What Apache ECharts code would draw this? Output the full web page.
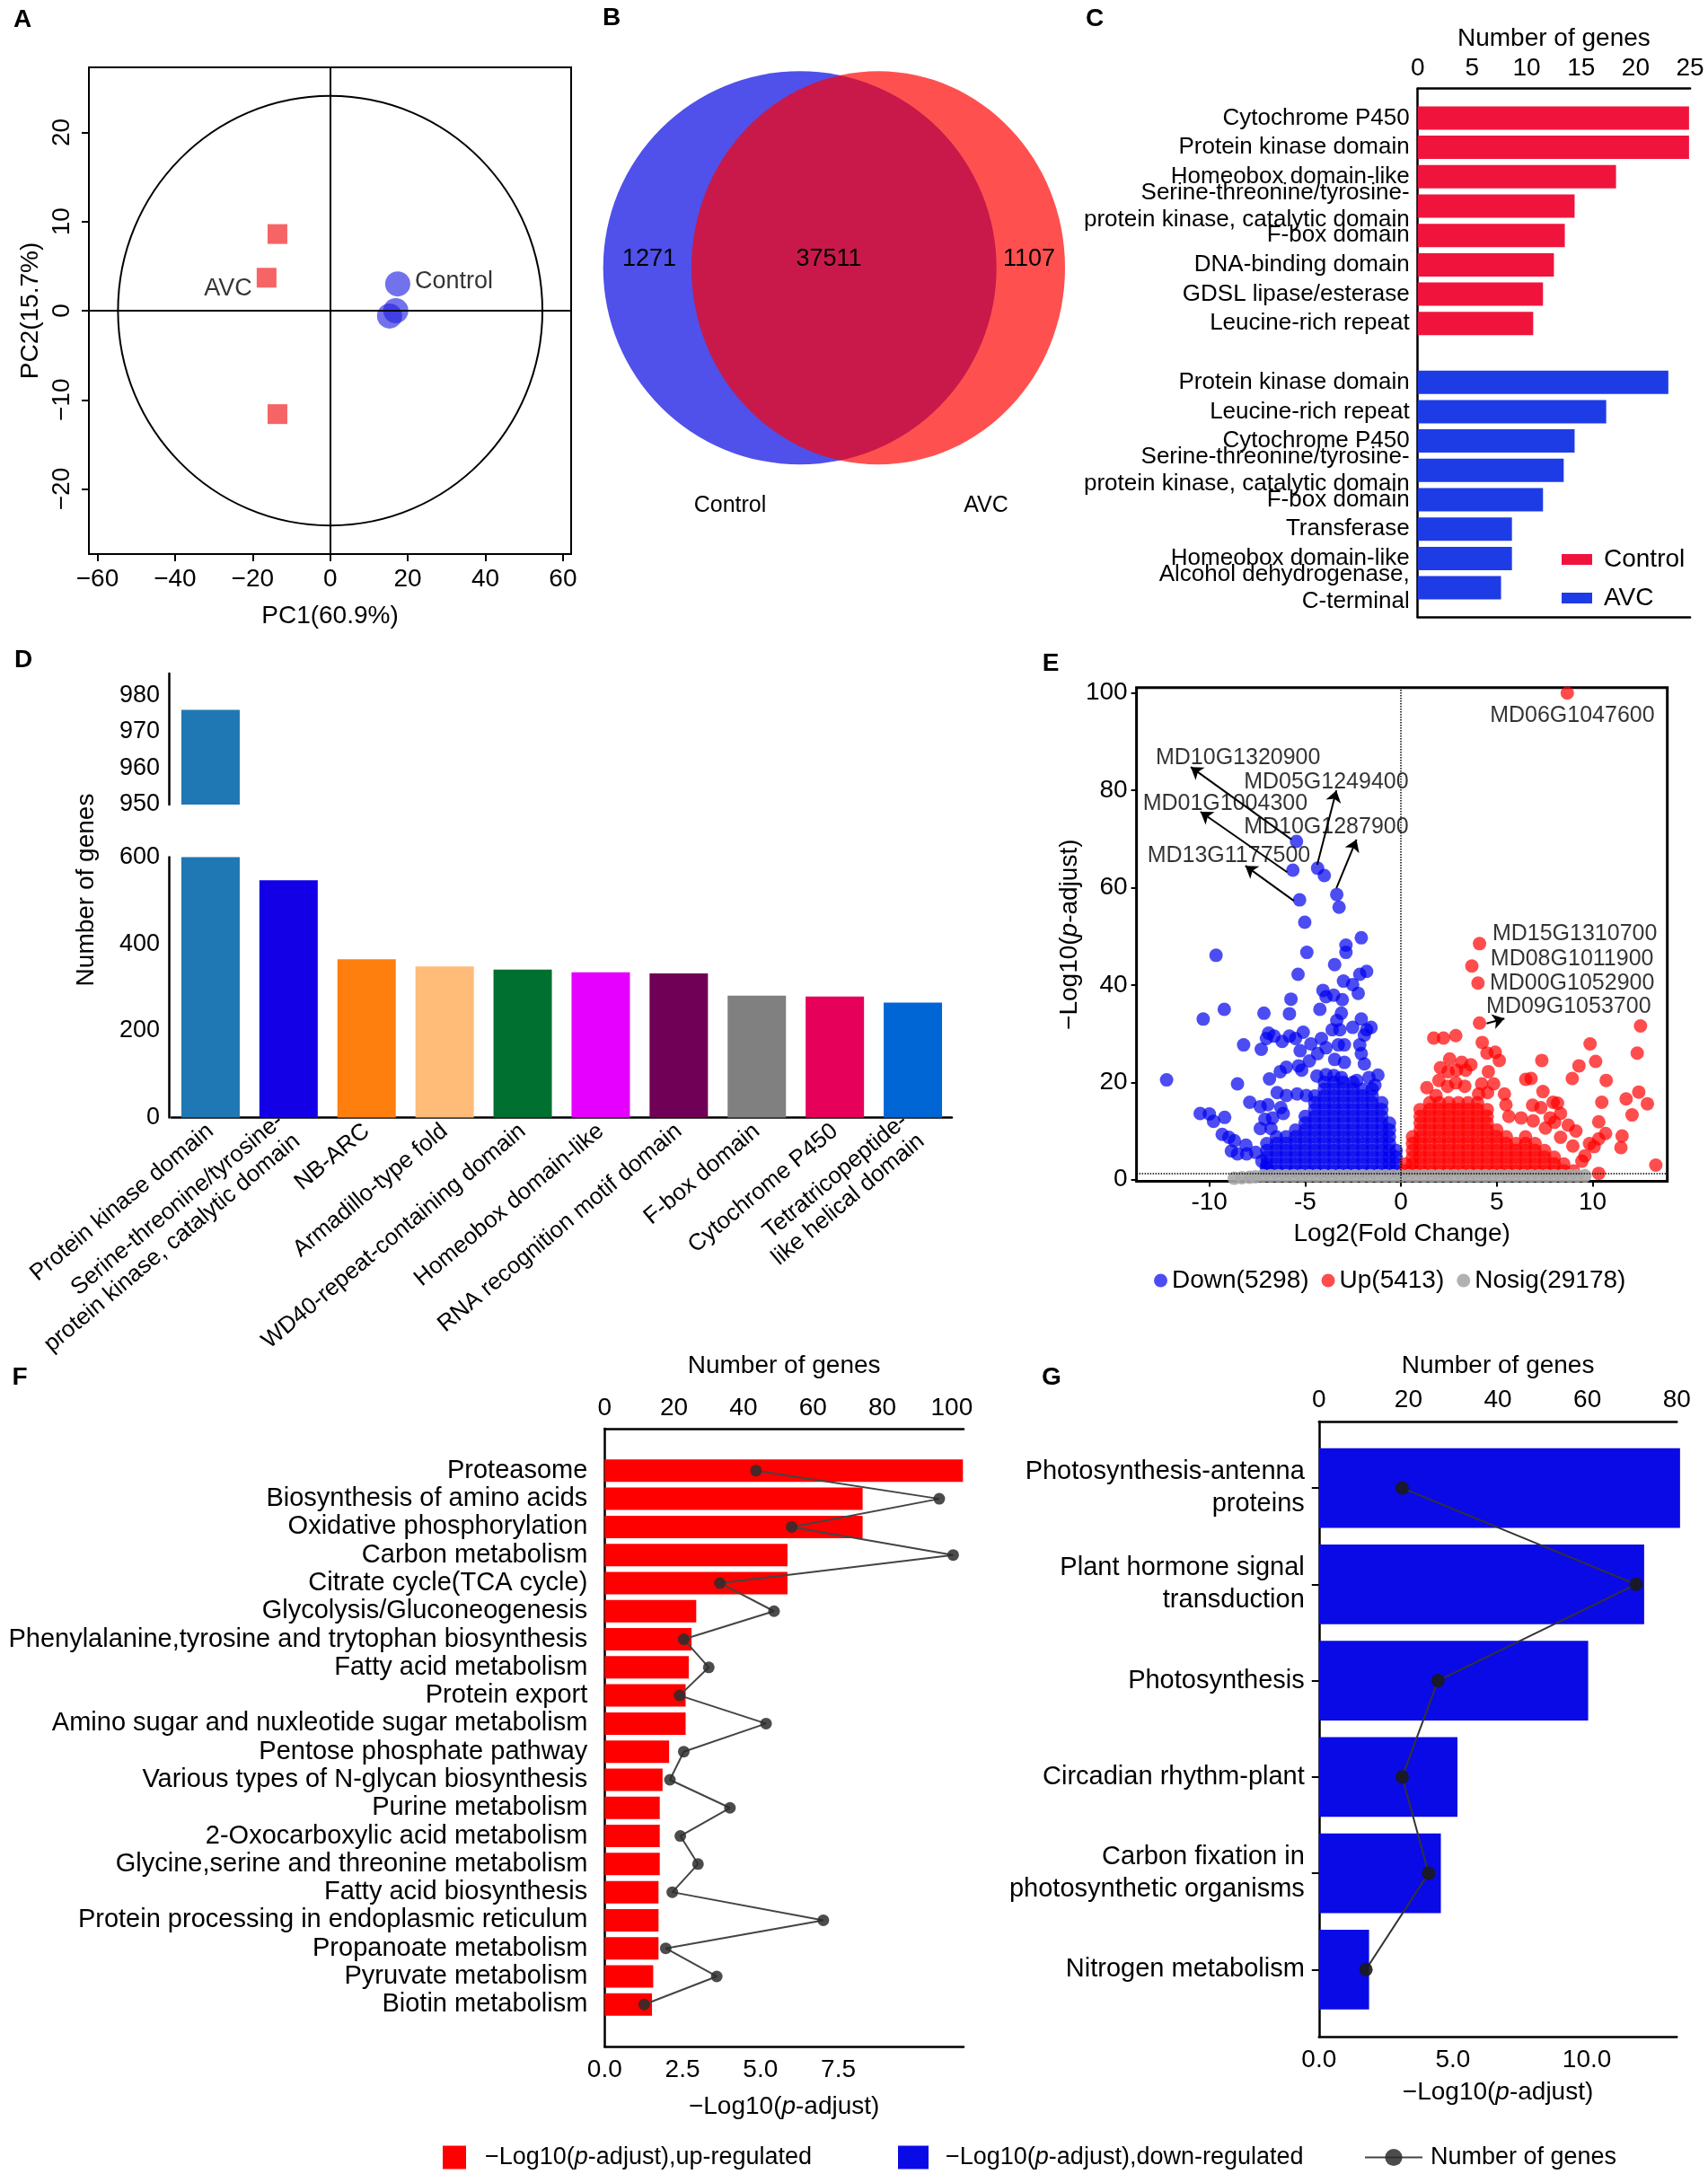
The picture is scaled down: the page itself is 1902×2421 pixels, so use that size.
<!DOCTYPE html>
<html><head><meta charset="utf-8">
<script src="https://cdn.jsdelivr.net/npm/echarts@6/dist/echarts.min.js"></script>
<style>html,body{margin:0;padding:0;background:#fff}#c{width:1902px;height:2421px}</style>
</head><body><div id="c"></div><script>
const FONT = 'Liberation Sans, Arial, Helvetica, sans-serif';

// ---------- Panel A: PCA ----------
const pcaAVC = [[-13.6, 8.6], [-16.4, 3.7], [-13.6, -11.6]];
const pcaControl = [[17.4, 3.0], [16.9, 0.0], [15.3, -0.6]];
const pcaEllipse = [[0, 0, 54.7, 24.1]]; // centre x, centre y, radius x, radius y (PC units)
const pcaXTicks = [-60, -40, -20, 0, 20, 40, 60];
const pcaYTicks = [-20, -10, 0, 10, 20];

// ---------- Panel B: Venn ----------
const vennSets = ['Control', 'AVC'];
const vennCounts = [1271, 37511, 1107]; // only Control, shared, only AVC

// ---------- Panel C ----------
const cControlCats = ['Cytochrome P450', 'Protein kinase domain', 'Homeobox domain-like',
  'Serine-threonine/tyrosine-\nprotein kinase, catalytic domain', 'F-box domain',
  'DNA-binding domain', 'GDSL lipase/esterase', 'Leucine-rich repeat'];
const cControlVals = [24.9, 24.9, 18.2, 14.4, 13.5, 12.5, 11.5, 10.6];
const cAVCCats = ['Protein kinase domain', 'Leucine-rich repeat', 'Cytochrome P450',
  'Serine-threonine/tyrosine-\nprotein kinase, catalytic domain', 'F-box domain',
  'Transferase', 'Homeobox domain-like', 'Alcohol dehydrogenase,\nC-terminal'];
const cAVCVals = [23.0, 17.3, 14.4, 13.4, 11.5, 8.65, 8.65, 7.65];

// ---------- Panel D ----------
const dCats = ['Protein kinase domain', 'Serine-threonine/tyrosine-\nprotein kinase, catalytic domain',
  'NB-ARC', 'Armadillo-type fold', 'WD40-repeat-containing domain', 'Homeobox domain-like',
  'RNA recognition motif domain', 'F-box domain', 'Cytochrome P450',
  'Tetratricopeptide-\nlike helical domain'];
const dVals = [976, 547, 365, 348, 341, 335, 332, 281, 279, 265];
const dUpperTicks = [950, 960, 970, 980];
const dLowerTicks = [0, 200, 400, 600];

// ---------- Panel E: volcano ----------
const volcanoGroups = ['Down', 'Up', 'Nosig'];
const volcanoCounts = [5298, 5413, 29178];
// dense cloud, read column by column: [log2FC, [-log10 padj values]]
const downCoreCols = [
  [-7.0, [1.8, 3.2, 4.6, 6.0, 7.4]],
  [-6.5, [1.8, 3.2, 4.6, 6.0, 7.4, 8.8]],
  [-6.0, [1.8, 3.2, 4.6, 6.0, 7.4, 8.8]],
  [-5.5, [1.8, 3.2, 4.6, 6.0, 7.4, 8.8, 10.2]],
  [-5.0, [1.8, 3.2, 4.6, 6.0, 7.4, 8.8, 10.2, 11.6, 13.0]],
  [-4.5, [1.8, 3.2, 4.6, 6.0, 7.4, 8.8, 10.2, 11.6, 13.0, 14.4, 15.8, 17.2]],
  [-4.0, [1.8, 3.2, 4.6, 6.0, 7.4, 8.8, 10.2, 11.6, 13.0, 14.4, 15.8, 17.2, 18.6, 20.0]],
  [-3.5, [1.8, 3.2, 4.6, 6.0, 7.4, 8.8, 10.2, 11.6, 13.0, 14.4, 15.8, 17.2, 18.6, 20.0, 21.4]],
  [-3.0, [1.8, 3.2, 4.6, 6.0, 7.4, 8.8, 10.2, 11.6, 13.0, 14.4, 15.8, 17.2, 18.6, 20.0]],
  [-2.5, [1.8, 3.2, 4.6, 6.0, 7.4, 8.8, 10.2, 11.6, 13.0, 14.4, 15.8, 17.2, 18.6, 20.0]],
  [-2.0, [1.8, 3.2, 4.6, 6.0, 7.4, 8.8, 10.2, 11.6, 13.0, 14.4, 15.8, 17.2, 18.6]],
  [-1.5, [1.8, 3.2, 4.6, 6.0, 7.4, 8.8, 10.2, 11.6, 13.0, 14.4, 15.8, 17.2, 18.6]],
  [-1.0, [1.8, 3.2, 4.6, 6.0, 7.4, 8.8, 10.2, 11.6, 13.0, 14.4, 15.8]],
  [-0.6, [1.8, 3.2, 4.6, 6.0, 7.4, 8.8, 10.2, 11.6]],
  [-0.25, [1.8, 3.2, 4.6, 6.0]]
];
const downOutliers = [[-5.45,69.5],[-5.64,63.6],[-4.35,64.0],[-4.0,62.5],[-3.35,58.6],[-3.23,56.0],[-5.29,57.5],
  [-5.02,52.9],[-2.07,49.7],[-2.87,48.2],[-2.87,46.7],[-4.91,46.7],[-9.65,46.1],[-3.46,44.2],[-5.37,42.2],[-2.15,42.2],
  [-1.79,42.8],[-3.0,40.8],[-2.52,40.1],[-2.23,38.3],[-4.07,38.9],[-3.51,37.9],[-3.91,37.6],[-3.06,37.0],[-5.74,37.1],
  [-4.23,35.0],[-5.82,34.1],[-7.15,34.2],[-9.22,35.0],[-10.32,33.0],[-3.11,34.2],[-3.35,32.7],[-3.19,30.8],[-2.07,33.0],
  [-2.52,31.3],[-1.79,30.8],[-1.56,31.3],[-3.59,30.8],[-6.91,30.1],[-5.10,30.3],[-5.82,29.5],[-7.02,29.0],[-6.62,29.5],
  [-6.2,28.4],[-5.5,29.0],[-4.7,27.9],[-4.15,29.0],[-3.91,27.1],[-3.27,27.7],[-2.95,27.7],[-2.15,27.7],[-1.91,29.7],
  [-2.07,25.9],[-8.21,27.7],[-7.29,26.8],[-5.26,26.5],[-4.78,24.4],[-4.35,25.9],[-3.46,24.7],[-2.95,24.1],[-1.91,23.8],
  [-1.2,21.5],[-12.23,20.5],[-8.53,19.7],[-6.86,20.7],[-6.3,22.2],[-5.98,23.1],[-5.34,23.4],[-5.18,22.5],[-4.39,21.3],
  [-3.91,21.6],[-3.11,21.0],[-2.31,20.4],[-1.67,21.0],[-1.36,19.4],[-6.46,17.9],[-5.98,17.3],[-5.42,17.6],[-4.94,17.3],
  [-7.89,15.9],[-7.34,15.0],[-6.94,15.4],[-6.27,14.8],[-10.48,13.6],[-10.0,13.5],[-9.78,12.0],[-9.2,12.8],[-7.1,12.4],
  [-6.7,12.7],[-6.14,13.6],[-9.33,9.3],[-8.98,8.7],[-8.69,8.0],[-8.85,5.9],[-8.53,5.3],[-8.09,7.1],[-8.05,5.3],
  [-7.58,5.6],[-7.34,10.5],[-6.78,10.5],[-7.26,3.8],[-7.02,2.5]];
const upCoreCols = [
  [0.25, [1.8, 3.2]],
  [0.6, [1.8, 3.2, 4.6, 6.0, 7.4, 8.8]],
  [1.0, [1.8, 3.2, 4.6, 6.0, 7.4, 8.8, 10.2, 11.6, 13.0, 14.4]],
  [1.5, [1.8, 3.2, 4.6, 6.0, 7.4, 8.8, 10.2, 11.6, 13.0, 14.4, 15.8]],
  [2.0, [1.8, 3.2, 4.6, 6.0, 7.4, 8.8, 10.2, 11.6, 13.0, 14.4, 15.8]],
  [2.5, [1.8, 3.2, 4.6, 6.0, 7.4, 8.8, 10.2, 11.6, 13.0, 14.4, 15.8]],
  [3.0, [1.8, 3.2, 4.6, 6.0, 7.4, 8.8, 10.2, 11.6, 13.0, 14.4, 15.8]],
  [3.5, [1.8, 3.2, 4.6, 6.0, 7.4, 8.8, 10.2, 11.6, 13.0, 14.4, 15.8]],
  [4.0, [1.8, 3.2, 4.6, 6.0, 7.4, 8.8, 10.2, 11.6, 13.0, 14.4, 15.8]],
  [4.5, [1.8, 3.2, 4.6, 6.0, 7.4, 8.8, 10.2, 11.6, 13.0, 14.4]],
  [5.0, [1.8, 3.2, 4.6, 6.0, 7.4, 8.8, 10.2]],
  [5.5, [1.8, 3.2, 4.6, 6.0, 7.4, 8.8]],
  [6.0, [1.8, 3.2, 4.6, 6.0, 7.4]],
  [6.5, [1.8, 3.2, 4.6, 6.0, 7.4, 8.8]],
  [7.0, [1.8, 3.2, 4.6, 6.0, 7.4]],
  [7.5, [1.8, 3.2, 4.6, 6.0]],
  [8.0, [1.8, 3.2, 4.6]],
  [8.5, [1.8, 3.2]],
  [9.0, [1.8]]
];
const upOutliers = [[8.68,100],[4.1,48.5],[3.7,43.9],[4.02,40.4],[4.1,32.2],[12.5,31.6],[9.87,27.9],[1.71,29.1],[2.22,29.1],
  [2.86,29.6],[4.24,28.2],[4.49,26.0],[4.92,26.2],[5.13,24.5],[7.35,24.5],[9.29,23.4],[10.16,24.3],[12.33,26.0],[2.54,24.8],
  [3.17,24.1],[3.65,23.6],[2.06,23.0],[2.46,22.2],[2.9,22.5],[3.38,22.5],[4.56,22.2],[8.94,20.8],[6.51,20.6],[6.79,20.8],
  [10.71,20.4],[1.98,20.4],[2.43,19.2],[2.86,19.9],[3.33,19.2],[4.21,19.7],[4.84,19.7],[5.4,17.6],[7.41,18.1],[12.41,18.0],
  [1.35,18.9],[1.83,17.3],[4.05,17.6],[4.52,17.9],[11.75,16.6],[12.86,15.6],[10.48,15.9],[6.87,15.3],[7.3,14.8],[8.17,15.7],
  [7.94,15.9],[5.48,15.4],[12.06,13.3],[8.33,13.6],[7.78,12.7],[6.9,12.1],[10.32,11.9],[6.27,12.7],[5.63,13.0],[8.73,11.2],
  [9.13,10.0],[10.68,9.5],[10.32,8.4],[11.54,9.0],[11.48,6.6],[9.84,7.4],[9.6,4.9],[10.08,6.8],[13.3,3.0],[10.32,1.3],
  [9.44,3.8],[8.97,6.9],[8.33,8.7],[7.54,10.6],[8.02,11.8]];
const nosigPoints = [[-8.7,0.3],[-8.3,0.4],[-7.9,0.5],[-7.6,0.6],
  [-7.2,0.8],[-6.8,0.8],[-6.4,0.8],[-6.0,0.8],[-5.6,0.8],[-5.2,0.8],[-4.8,0.8],[-4.4,0.8],[-4.0,0.8],[-3.6,0.8],
  [-3.2,0.8],[-2.8,0.8],[-2.4,0.8],[-2.0,0.8],[-1.6,0.8],[-1.2,0.8],[-0.8,0.8],[-0.4,0.8],[0.0,0.8],[0.4,0.8],
  [0.8,0.8],[1.2,0.8],[1.6,0.8],[2.0,0.8],[2.4,0.8],[2.8,0.8],[3.2,0.8],[3.6,0.8],[4.0,0.8],[4.4,0.8],[4.8,0.8],
  [5.2,0.8],[5.6,0.8],[6.0,0.8],[6.4,0.8],[6.8,0.8],[7.2,0.8],[7.6,0.8],[8.0,0.8],[8.4,0.8],[8.8,0.8],[9.2,0.8],[9.6,0.8]];
const geneLabels = [
  ['MD06G1047600', 8.94, 95.4], ['MD10G1320900', -8.5, 86.7], ['MD05G1249400', -3.9, 81.7],
  ['MD01G1004300', -9.17, 77.2], ['MD10G1287900', -3.9, 72.4], ['MD13G1177500', -8.98, 66.5],
  ['MD15G1310700', 9.07, 50.5], ['MD08G1011900', 8.93, 45.4], ['MD00G1052900', 8.93, 40.4],
  ['MD09G1053700', 8.75, 35.5]];
const geneArrows = [
  [[-5.71, 69.9], [-10.97, 84.8]], [[-5.94, 63.2], [-10.46, 75.6]], [[-4.37, 64.7], [-3.37, 80.0]],
  [[-3.37, 59.9], [-2.32, 69.9]], [[-5.59, 57.3], [-8.12, 64.5]], [[4.47, 32.1], [5.4, 33.1]]];
const eXTicks = [-10, -5, 0, 5, 10];
const eYTicks = [0, 20, 40, 60, 80, 100];
const padjCut = 1.3;

// ---------- Panel F ----------
const fCats = ['Proteasome', 'Biosynthesis of amino acids', 'Oxidative phosphorylation', 'Carbon metabolism',
  'Citrate cycle(TCA cycle)', 'Glycolysis/Gluconeogenesis', 'Phenylalanine,tyrosine and trytophan biosynthesis',
  'Fatty acid metabolism', 'Protein export', 'Amino sugar and nuxleotide sugar metabolism', 'Pentose phosphate pathway',
  'Various types of N-glycan biosynthesis', 'Purine metabolism', '2-Oxocarboxylic acid metabolism',
  'Glycine,serine and threonine metabolism', 'Fatty acid biosynthesis', 'Protein processing in endoplasmic reticulum',
  'Propanoate metabolism', 'Pyruvate metabolism', 'Biotin metabolism'];
const fLogP = [11.5, 8.28, 8.28, 5.87, 5.87, 2.94, 2.79, 2.70, 2.60, 2.60, 2.07, 1.86, 1.77, 1.77, 1.77, 1.73, 1.73, 1.73, 1.56, 1.52];
const fGenes = [43.6, 96.4, 53.9, 100.4, 33.2, 48.8, 22.8, 30.0, 21.6, 46.5, 22.8, 18.8, 36.1, 21.8, 26.9, 19.5, 63.0, 17.6, 32.3, 11.4];
const fBottomTicks = [0, 2.5, 5, 7.5];
const fTopTicks = [0, 20, 40, 60, 80, 100];

// ---------- Panel G ----------
const gCats = ['Photosynthesis-antenna\nproteins', 'Plant hormone signal\ntransduction', 'Photosynthesis',
  'Circadian rhythm-plant', 'Carbon fixation in\nphotosynthetic organisms', 'Nitrogen metabolism'];
const gLogP = [13.48, 12.14, 10.05, 5.17, 4.55, 1.87];
const gGenes = [18.6, 70.9, 26.6, 18.6, 24.5, 10.5];
const gBottomTicks = [0, 5, 10];

const legendNames = ['−Log10(p-adjust),up-regulated', '−Log10(p-adjust),down-regulated', 'Number of genes'];

// ---------- styles ----------
const AXL = {onZero: false, lineStyle: {color: '#000', width: 2.5}};
const NOAXL = {show: false, onZero: false};
const dPalette = ['#1f77b4', '#1400e6', '#ff7f0e', '#ffbb78', '#007030', '#e600ff', '#700055', '#808080', '#e6005a', '#0066d6'];
const minus = v => String(v).replace('-', '−');
const italicP = s => s.replace('p-adjust', '{i|p}-adjust');

const downData = downCoreCols.flatMap(c => c[1].map(y => [c[0], y])).concat(downOutliers);
const upData = upCoreCols.flatMap(c => c[1].map(y => [c[0], y])).concat(upOutliers);
const cCats = [''].concat(cControlCats, [''], cAVCCats, ['']);
const cControlSeries = ['-'].concat(cControlVals, ['-'], cAVCVals.map(() => '-'), ['-']);
const cAVCSeries = ['-'].concat(cControlVals.map(() => '-'), ['-'], cAVCVals, ['-']);
const fPadCats = [''].concat(fCats, ['']);
const eNames = volcanoGroups.map((g, i) => g + '(' + volcanoCounts[i] + ')');

function txt(text, x, y, size, weight, extra) {
  return Object.assign({type: 'text', x: x, y: y, silent: true,
    style: {text: text, fontSize: size, fontFamily: FONT, fontWeight: weight || 'normal', fill: '#000',
      align: 'center', verticalAlign: 'middle', textAlign: 'center', textVerticalAlign: 'middle'}}, extra || {});
}

const option = {
  animation: false,
  backgroundColor: '#fff',
  textStyle: {fontFamily: FONT, color: '#000'},
  grid: [
    {left: 99, top: 75, width: 537, height: 542, show: true, borderColor: '#000', borderWidth: 2, backgroundColor: 'transparent'},
    {left: 1578.7, top: 98.7, width: 303.4, height: 588.6},
    {left: 191, top: 750, width: 869, height: 146},
    {left: 191, top: 954.6, width: 869, height: 289.9},
    {left: 1265.6, top: 765.8, width: 591.1, height: 549.8, show: true, borderColor: '#000', borderWidth: 3, backgroundColor: 'transparent'},
    {left: 673.3, top: 1590.9, width: 399.7, height: 688.3},
    {left: 1468.8, top: 1583.1, width: 398.5, height: 685.3}
  ],
  xAxis: [
    {gridIndex: 0, type: 'value', min: -62.2, max: 62.1, axisLine: NOAXL, splitLine: {show: false},
      axisTick: {length: 8, lineStyle: {width: 2, color: '#000'}, customValues: pcaXTicks},
      axisLabel: {fontSize: 28, margin: 14, color: '#000', customValues: pcaXTicks, formatter: minus},
      name: 'PC1(60.9%)', nameLocation: 'middle', nameGap: 55, nameTextStyle: {fontSize: 28, color: '#000'}},
    {gridIndex: 1, type: 'value', position: 'top', min: 0, max: 25, interval: 5, axisLine: Object.assign({show: true}, AXL),
      splitLine: {show: false}, axisTick: {show: false},
      axisLabel: {fontSize: 28, margin: 8, color: '#000'},
      name: 'Number of genes', nameLocation: 'middle', nameGap: 41, nameTextStyle: {fontSize: 28, color: '#000'}},
    {gridIndex: 1, type: 'value', position: 'bottom', min: 0, max: 25, axisLine: Object.assign({show: true}, AXL),
      splitLine: {show: false}, axisTick: {show: false}, axisLabel: {show: false}},
    {gridIndex: 2, type: 'category', data: dCats, show: false},
    {gridIndex: 3, type: 'category', data: dCats, axisLine: AXL,
      axisTick: {alignWithLabel: true, length: 7, lineStyle: {width: 2, color: '#000'}},
      axisLabel: {interval: 0, rotate: 40, fontSize: 26, lineHeight: 29, margin: 12, color: '#000'}},
    {gridIndex: 4, type: 'value', min: -13.8, max: 13.9, axisLine: NOAXL, splitLine: {show: false},
      axisTick: {length: 6, lineStyle: {width: 2, color: '#000'}, customValues: eXTicks},
      axisLabel: {fontSize: 28, margin: 10, color: '#000', customValues: eXTicks},
      name: 'Log2(Fold Change)', nameLocation: 'middle', nameGap: 45, nameTextStyle: {fontSize: 28, color: '#000'}},
    {gridIndex: 5, type: 'value', position: 'bottom', min: 0, max: 11.52, axisLine: Object.assign({show: true}, AXL),
      splitLine: {show: false}, axisTick: {show: false},
      axisLabel: {fontSize: 28, margin: 12, color: '#000', customValues: fBottomTicks, formatter: v => v.toFixed(1)},
      name: italicP('−Log10(p-adjust)'), nameLocation: 'middle', nameGap: 53,
      nameTextStyle: {fontSize: 28, color: '#000', rich: {i: {fontStyle: 'italic', fontSize: 28, fontFamily: FONT}}}},
    {gridIndex: 5, type: 'value', position: 'top', min: 0, max: 103.4, axisLine: Object.assign({show: true}, AXL),
      splitLine: {show: false}, axisTick: {show: false},
      axisLabel: {fontSize: 28, margin: 9, color: '#000', customValues: fTopTicks},
      name: 'Number of genes', nameLocation: 'middle', nameGap: 56, nameTextStyle: {fontSize: 28, color: '#000'}},
    {gridIndex: 6, type: 'value', position: 'bottom', min: 0, max: 13.36, axisLine: Object.assign({show: true}, AXL),
      splitLine: {show: false}, axisTick: {show: false},
      axisLabel: {fontSize: 28, margin: 12, color: '#000', customValues: gBottomTicks, formatter: v => v.toFixed(1)},
      name: italicP('−Log10(p-adjust)'), nameLocation: 'middle', nameGap: 48,
      nameTextStyle: {fontSize: 28, color: '#000', rich: {i: {fontStyle: 'italic', fontSize: 28, fontFamily: FONT}}}},
    {gridIndex: 6, type: 'value', position: 'top', min: 0, max: 80, interval: 20, axisLine: Object.assign({show: true}, AXL),
      splitLine: {show: false}, axisTick: {show: false},
      axisLabel: {fontSize: 28, margin: 10, color: '#000'},
      name: 'Number of genes', nameLocation: 'middle', nameGap: 48, nameTextStyle: {fontSize: 28, color: '#000'}}
  ],
  yAxis: [
    {gridIndex: 0, type: 'value', min: -27.3, max: 27.3, axisLine: NOAXL, splitLine: {show: false},
      axisTick: {length: 8, lineStyle: {width: 2, color: '#000'}, customValues: pcaYTicks},
      axisLabel: {rotate: 90, fontSize: 28, margin: 16, color: '#000', customValues: pcaYTicks, formatter: minus},
      name: 'PC2(15.7%)', nameLocation: 'middle', nameGap: 51, nameTextStyle: {fontSize: 28, color: '#000'}},
    {gridIndex: 1, type: 'category', data: cCats, inverse: true, boundaryGap: false, axisLine: AXL,
      axisTick: {show: false}, axisLabel: {interval: 0, fontSize: 26, lineHeight: 30, margin: 9, color: '#000'}},
    {gridIndex: 2, type: 'value', min: 950, max: 986, offset: 3, axisLine: Object.assign({show: true}, AXL), splitLine: {show: false},
      axisTick: {length: 7, lineStyle: {width: 2, color: '#000'}, customValues: dUpperTicks},
      axisLabel: {fontSize: 27, margin: 10, color: '#000', customValues: dUpperTicks}},
    {gridIndex: 3, type: 'value', min: 0, max: 600, offset: 3, axisLine: Object.assign({show: true}, AXL), splitLine: {show: false},
      axisTick: {length: 7, lineStyle: {width: 2, color: '#000'}, customValues: dLowerTicks},
      axisLabel: {fontSize: 27, margin: 10, color: '#000', customValues: dLowerTicks}},
    {gridIndex: 4, type: 'value', min: -0.35, max: 101.1, axisLine: NOAXL, splitLine: {show: false},
      axisTick: {length: 6, lineStyle: {width: 2, color: '#000'}, customValues: eYTicks},
      axisLabel: {fontSize: 28, margin: 10, color: '#000', customValues: eYTicks},
      name: italicP('−Log10(p-adjust)'), nameLocation: 'middle', nameGap: 55,
      nameTextStyle: {fontSize: 28, color: '#000', rich: {i: {fontStyle: 'italic', fontSize: 28, fontFamily: FONT}}}},
    {gridIndex: 5, type: 'category', data: fPadCats, inverse: true, boundaryGap: true, axisLine: AXL,
      axisTick: {alignWithLabel: true, length: 7, lineStyle: {width: 2, color: '#000'}, interval: (i, v) => v !== ''},
      axisLabel: {interval: 0, fontSize: 29, margin: 19, color: '#000'}},
    {gridIndex: 6, type: 'value', min: -0.69, max: 5.70, inverse: true, axisLine: Object.assign({show: true}, AXL), splitLine: {show: false},
      axisTick: {length: 8, lineStyle: {width: 2, color: '#000'}, customValues: [0, 1, 2, 3, 4, 5]},
      axisLabel: {fontSize: 29, lineHeight: 36, margin: 16, color: '#000', customValues: [0, 1, 2, 3, 4, 5],
        formatter: v => gCats[Math.round(v)]}}
  ],
  legend: [
    {left: 1734, top: 604, orient: 'vertical', icon: 'rect', itemWidth: 34, itemHeight: 12, itemGap: 15,
      data: ['Control', 'AVC'], textStyle: {fontSize: 28, color: '#000', padding: [0, 0, 0, 8]}, selectedMode: false},
    {left: 1280, top: 1407, icon: 'circle', itemWidth: 15, itemHeight: 15, itemGap: 14,
      data: eNames, textStyle: {fontSize: 28, color: '#000'}, selectedMode: false},
    {left: 488, top: 2384, icon: 'rect', itemWidth: 26, itemHeight: 26, data: [legendNames[0]], selectedMode: false,
      formatter: italicP, textStyle: {fontSize: 27, color: '#000', padding: [0, 0, 0, 16], rich: {i: {fontStyle: 'italic', fontSize: 27, fontFamily: FONT}}}},
    {left: 995, top: 2384, icon: 'rect', itemWidth: 34, itemHeight: 26, data: [legendNames[1]], selectedMode: false,
      formatter: italicP, textStyle: {fontSize: 27, color: '#000', padding: [0, 0, 0, 14], rich: {i: {fontStyle: 'italic', fontSize: 27, fontFamily: FONT}}}},
    {left: 1514, top: 2384, itemWidth: 64, itemHeight: 24, data: [legendNames[2]], selectedMode: false,
      textStyle: {fontSize: 27, color: '#000', padding: [0, 0, 0, 4]}}
  ],
  series: [
    // A
    {type: 'custom', name: 'ellipse', xAxisIndex: 0, yAxisIndex: 0, data: pcaEllipse, silent: true,
      encode: {x: 0, y: 1},
      renderItem: (params, api) => {
        const c = api.coord([api.value(0), api.value(1)]);
        const s = api.size([api.value(2), api.value(3)]);
        return {type: 'ellipse', shape: {cx: c[0], cy: c[1], rx: s[0], ry: s[1]}, style: {fill: 'none', stroke: '#000', lineWidth: 2}};
      }},
    {type: 'scatter', name: 'pcaAVC', xAxisIndex: 0, yAxisIndex: 0, symbol: 'rect', symbolSize: 22,
      itemStyle: {color: 'rgba(240,30,30,0.85)'},
      data: pcaAVC.map((p, i) => i === 1 ? {value: p, label: {show: true, position: 'left', formatter: 'AVC', fontSize: 27, color: '#000', offset: [0, 12]}} : p),
      markLine: {silent: true, symbol: ['none', 'none'], label: {show: false}, lineStyle: {color: '#000', width: 2, type: 'solid'},
        data: [{xAxis: 0}, {yAxis: 0}]}},
    {type: 'scatter', name: 'pcaControl', xAxisIndex: 0, yAxisIndex: 0, symbol: 'circle', symbolSize: 28,
      itemStyle: {color: 'rgba(35,35,225,0.8)'},
      data: pcaControl.map((p, i) => i === 0 ? {value: p, label: {show: true, position: 'right', formatter: 'Control', fontSize: 27, color: '#000', offset: [0, -3]}} : p)},
    // C
    {type: 'bar', name: 'Control', xAxisIndex: 1, yAxisIndex: 1, data: cControlSeries, barWidth: 26, barGap: '-100%',
      itemStyle: {color: '#f0143c'}},
    {type: 'bar', name: 'AVC', xAxisIndex: 1, yAxisIndex: 1, data: cAVCSeries, barWidth: 26, barGap: '-100%',
      itemStyle: {color: '#1e3ce6'}},
    // D
    {type: 'bar', name: 'dUpper', xAxisIndex: 3, yAxisIndex: 2, barWidth: 65, clip: true,
      data: dVals.map(v => v > 950 ? v : '-'), itemStyle: {color: p => dPalette[p.dataIndex]}},
    {type: 'bar', name: 'dLower', xAxisIndex: 4, yAxisIndex: 3, barWidth: 65, clip: true,
      data: dVals.map(v => Math.min(v, 600)), itemStyle: {color: p => dPalette[p.dataIndex]}},
    // E
    {type: 'scatter', name: eNames[0], xAxisIndex: 5, yAxisIndex: 4, symbolSize: 15, data: downData,
      itemStyle: {color: '#0000ee', opacity: 0.7},
      markLine: {silent: true, symbol: ['none', 'none'], label: {show: false},
        lineStyle: {color: '#000', width: 1.5, type: 'dotted', opacity: 1}, data: [{xAxis: 0}, {yAxis: padjCut}]}},
    {type: 'scatter', name: eNames[1], xAxisIndex: 5, yAxisIndex: 4, symbolSize: 15, data: upData,
      itemStyle: {color: '#ff0000', opacity: 0.7}},
    {type: 'scatter', name: eNames[2], xAxisIndex: 5, yAxisIndex: 4, symbolSize: 15, data: nosigPoints,
      itemStyle: {color: '#a8a8a8', opacity: 0.9}},
    {type: 'scatter', name: 'geneLabels', xAxisIndex: 5, yAxisIndex: 4, symbolSize: 0, silent: true, z: 5,
      data: geneLabels.map(g => ({name: g[0], value: [g[1], g[2]]})),
      label: {show: true, position: 'inside', formatter: '{b}', fontSize: 25, color: '#000'}},
    {type: 'lines', name: 'geneArrows', coordinateSystem: 'cartesian2d', xAxisIndex: 5, yAxisIndex: 4, z: 5, silent: true,
      symbol: ['none', 'arrow'], symbolSize: 13, lineStyle: {color: '#000', width: 2, opacity: 1},
      data: geneArrows.map(a => ({coords: a}))},
    // F
    {type: 'bar', name: legendNames[0], xAxisIndex: 6, yAxisIndex: 5, barWidth: 25,
      data: ['-'].concat(fLogP, ['-']), itemStyle: {color: '#ff0000'}},
    {type: 'line', name: legendNames[2], xAxisIndex: 7, yAxisIndex: 5, data: ['-'].concat(fGenes, ['-']),
      symbol: 'circle', symbolSize: 13, lineStyle: {color: '#444', width: 2},
      itemStyle: {color: 'rgba(45,45,45,0.85)'}},
    // G
    {type: 'custom', name: legendNames[1], xAxisIndex: 8, yAxisIndex: 6, data: gLogP.map((v, i) => [v, i]),
      encode: {x: 0, y: 1}, itemStyle: {color: '#0a0ae6'},
      renderItem: (params, api) => {
        const v = api.value(0), idx = api.value(1);
        const p0 = api.coord([0, idx]);
        const p1 = api.coord([v, idx]);
        const h = api.size([0, 0.827])[1];
        return {type: 'rect', shape: {x: p0[0], y: p0[1] - h / 2, width: p1[0] - p0[0], height: h}, style: {fill: '#0a0ae6'}};
      }},
    {type: 'line', name: legendNames[2], xAxisIndex: 9, yAxisIndex: 6, data: gGenes.map((v, i) => [v, i]),
      symbol: 'circle', symbolSize: 15, lineStyle: {color: '#333', width: 2},
      itemStyle: {color: 'rgba(25,25,25,0.9)'}}
  ],
  graphic: [
    // Venn diagram
    {type: 'circle', silent: true, shape: {cx: 890.7, cy: 298.3, r: 219}, style: {fill: 'rgb(0,0,225)', opacity: 0.686}},
    {type: 'ellipse', silent: true, shape: {cx: 978, cy: 298.3, rx: 208, ry: 219}, style: {fill: 'rgb(255,0,0)', opacity: 0.686}},
    txt(String(vennCounts[0]), 723, 289, 27),
    txt(String(vennCounts[1]), 923, 289, 27),
    txt(String(vennCounts[2]), 1146, 289, 27),
    txt(vennSets[0], 813, 563, 25),
    txt(vennSets[1], 1098, 563, 25),
    // D axis name spanning both segments
    txt('Number of genes', 96, 991, 28, 'normal', {rotation: Math.PI / 2}),
    // panel letters
    txt('A', 25, 22, 28, 'bold'), txt('B', 681, 20, 28, 'bold'), txt('C', 1219, 21, 28, 'bold'),
    txt('D', 26, 735, 28, 'bold'), txt('E', 1170, 739, 28, 'bold'), txt('F', 22, 1534, 28, 'bold'),
    txt('G', 1171, 1534, 28, 'bold')
  ]
};

const chart = echarts.init(document.getElementById('c'), null, {renderer: 'canvas', width: 1902, height: 2421});
chart.setOption(option);
</script></body></html>
